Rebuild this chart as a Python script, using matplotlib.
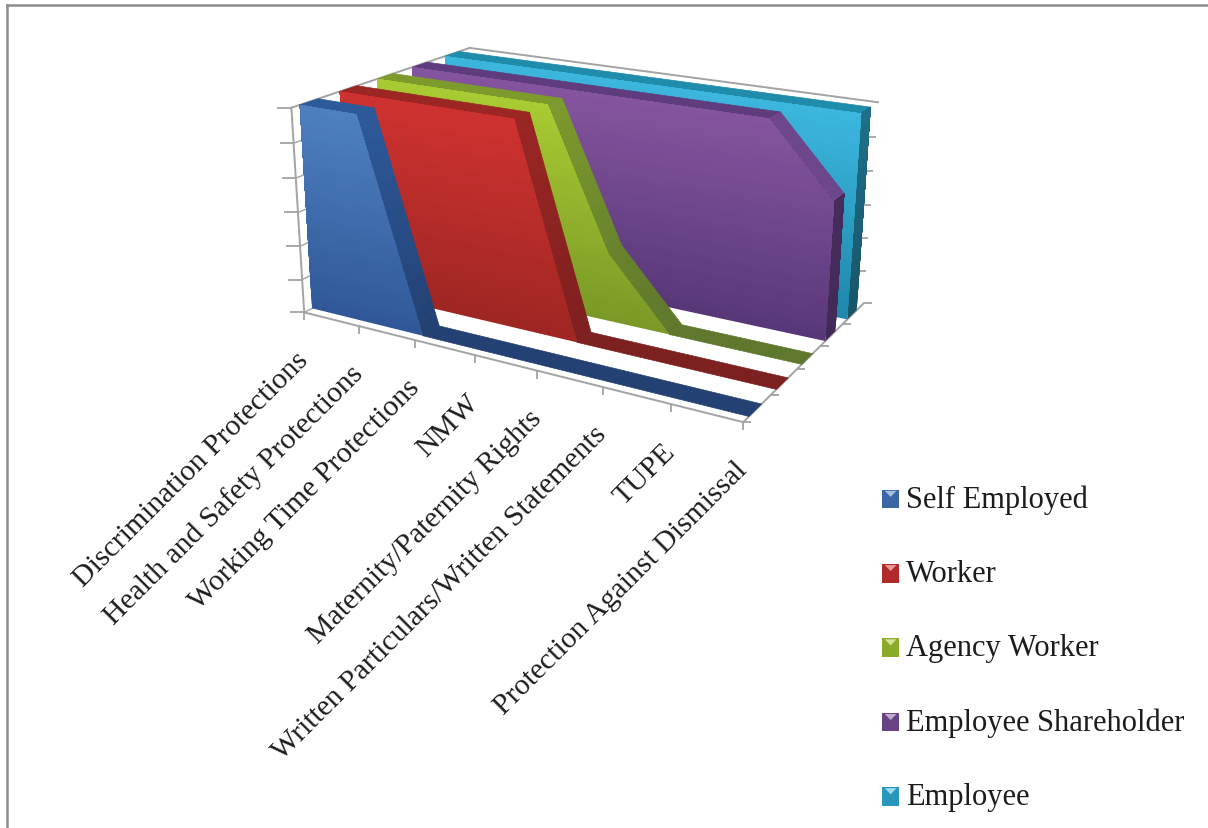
import numpy as np
import matplotlib
matplotlib.use('Agg')
import matplotlib.pyplot as plt
from matplotlib.lines import Line2D
from matplotlib.patches import Patch, Rectangle, Polygon
from matplotlib.path import Path
from mpl_toolkits.mplot3d import proj3d
from mpl_toolkits.mplot3d.art3d import Poly3DCollection

categories = ['Discrimination Protections', 'Health and Safety Protections', 'Working Time Protections',
              'NMW', 'Maternity/Paternity Rights', 'Written Particulars/Written Statements', 'TUPE',
              'Protection Against Dismissal']
series_names = ['Self Employed', 'Worker', 'Agency Worker', 'Employee Shareholder', 'Employee']
self_employed = [6, 6, 0, 0, 0, 0, 0, 0]
worker = [6, 6, 6, 6, 0, 0, 0, 0]
agency_worker = [6, 6, 6, 6, 2, 0, 0, 0]
employee_shareholder = [6, 6, 6, 6, 6, 6, 6, 4]
employee = [6, 6, 6, 6, 6, 6, 6, 6]
series_values = [self_employed, worker, agency_worker, employee_shareholder, employee]

W, H, S = 1208, 829, 1600
# each ribbon sits between these depths inside its series slot
FD, BD = 0.2, 0.65

# (top, bottom) colours of the front face, the top strip and the end cap
face_cols = [((78, 128, 192), (48, 88, 152)), ((207, 50, 48), (158, 38, 35)), ((168, 203, 50), (122, 152, 38)),
             ((132, 85, 158), (88, 55, 120)), ((60, 182, 222), (30, 135, 170))]
strip_cols = [((45, 90, 155), (35, 65, 115)), ((155, 38, 35), (125, 32, 32)), ((125, 155, 45), (95, 120, 45)),
              ((95, 60, 125), (75, 48, 100)), ((30, 140, 170), (25, 110, 140))]
end_cols = [((35, 70, 125), (30, 60, 110)), ((120, 30, 30), (110, 28, 28)), ((90, 115, 40), (85, 105, 40)),
            ((72, 46, 95), (66, 42, 88)), ((30, 112, 138), (24, 84, 104))]

fig = plt.figure(figsize=(W / 100, H / 100), dpi=100)
cx, cy = 565.65713, 231.36271
ax = fig.add_axes([(cx - S / 2) / W, (H - cy - S / 2) / H, S / W, S / H], projection='3d')
ax.set_axis_off()
ax.computed_zorder = False
ax.set_xlim(0, 7)
ax.set_ylim(0, 5)
ax.set_zlim(0, 6)
ax.view_init(elev=18.77319, azim=-60.61580, roll=-0.27643)
ax.set_proj_type('persp', focal_length=float(np.exp(-1.77855)))
ax.set_box_aspect((1, 0.63834, 0.44275), zoom=0.37143)
ax.apply_aspect()
M = ax.get_proj()


def mix(top, bottom, t):
    return tuple((t * a + (1 - t) * b) / 255 for a, b in zip(top, bottom))


def clip_above(pts, level):
    # keep the part of a (x, value) polygon at or above level
    out = []
    for i in range(len(pts)):
        a, b = pts[i], pts[(i + 1) % len(pts)]
        if a[1] >= level:
            out.append(a)
        if (a[1] >= level) != (b[1] >= level):
            t = (level - a[1]) / (b[1] - a[1])
            out.append((a[0] + t * (b[0] - a[0]), level))
    return out


def add_polys(verts, colors, z, lw=0.5):
    edges = colors if lw else 'none'
    coll = Poly3DCollection(verts, facecolors=colors, edgecolors=edges, linewidths=lw, zorder=z)
    ax.add_collection3d(coll, autolim=False)


levels = np.linspace(0, 6, 49)
for s in reversed(range(len(series_values))):
    vals = series_values[s]
    y0, y1 = s + FD, s + BD
    z = 10 + 3 * (len(series_values) - s)
    verts, cols = [], []
    for i in range(len(vals) - 1):
        v0, v1 = vals[i], vals[i + 1]
        pieces = 1 if v0 == v1 else 16
        for k in range(pieces):
            a, b = k / pieces, (k + 1) / pieces
            xa, xb = i + a, i + b
            za, zb = v0 + a * (v1 - v0), v0 + b * (v1 - v0)
            verts.append([(xa, y0, za), (xb, y0, zb), (xb, y1, zb), (xa, y1, za)])
            col = mix(*strip_cols[s], (za + zb) / 12)
            # the shareholder slope catches more light than its flat top
            if s == 3 and v0 != v1:
                col = (110 / 255, 70 / 255, 140 / 255)
            cols.append(col)
    add_polys(verts, cols, z)
    # shaded layers are stacked from the floor up, so no seams show between them
    profile = [(0, 0), (len(vals) - 1, 0)] + [(i, vals[i]) for i in reversed(range(len(vals)))]
    for j, lo in enumerate(levels[:-1]):
        mid = (lo + levels[j + 1]) / 2
        if lo < vals[-1]:
            add_polys([[(7, y0, lo), (7, y1, lo), (7, y1, vals[-1]), (7, y0, vals[-1])]],
                      [mix(*end_cols[s], mid / 6)], z + 1 + j / 100, lw=0)
        pts = clip_above(profile, lo)
        if len(pts) >= 3:
            add_polys([[(q[0], y0, q[1]) for q in pts]], [mix(*face_cols[s], mid / 6)], z + 2 + j / 100, lw=0)

GRID = '#a3a3a3'
wall = dict(color=GRID, lw=1.4, zorder=3)
ax.plot([0, 7], [0, 0], [0, 0], **wall)
ax.plot([7, 7], [0, 5], [0, 0], **wall)
ax.plot([0, 0], [0, 0], [0, 6], **wall)
ax.plot([0, 0], [0, 5], [6, 6], **wall)
ax.plot([0, 7], [5, 5], [6, 6], **wall)
for v in range(6):
    ax.plot([0, 0], [0, 5], [v, v], color=GRID, lw=1.0, zorder=2)

left_tick = Path([(-1, 0), (0, 0)])
right_tick = Path([(0, 0), (1, 0)])
down_tick = Path([(0, 0), (0, -1)])
mark = dict(ls='none', mec=GRID, mfc='none', mew=1.3, zorder=4)
ax.plot([0] * 7, [0] * 7, range(7), marker=left_tick, ms=20, **mark)
ax.plot(range(8), [0] * 8, [0] * 8, marker=down_tick, ms=12, **mark)
ax.plot([7] * 6, range(6), [0] * 6, marker=right_tick, ms=12, **mark)
# back axis ticks run behind the last ribbon and only poke out past it
back = dict(mark, zorder=2)
ax.plot([7] * 5, [5] * 5, range(1, 6), marker=left_tick, ms=12, **back)

serif = 'Liberation Serif'
INK = '#1c1c1c'
for i, label in enumerate(categories):
    tx, ty, _ = proj3d.proj_transform(i, 0, 0, M)
    ax.annotate(label, xy=(tx, ty), xycoords='data', xytext=(0, -43), textcoords='offset pixels',
                rotation=45, ha='right', va='center', rotation_mode='anchor', family=serif, fontsize=21.4,
                color=INK, zorder=50, annotation_clip=False)


class BevelHandler:
    def legend_artist(self, legend, orig, fontsize, box):
        x0, y0 = box.xdescent, box.ydescent
        w, h = box.width, box.height
        tr = box.get_transform()
        base = Rectangle((x0, y0), w, h, facecolor=orig.get_facecolor(), edgecolor='none', transform=tr)
        tri = Polygon([(x0 + .15 * w, y0 + h * .95), (x0 + .85 * w, y0 + h * .95), (x0 + .5 * w, y0 + .62 * h)],
                      facecolor=orig.get_edgecolor(), edgecolor='none', transform=tr)
        box.add_artist(base)
        box.add_artist(tri)
        return base


handles = [Patch(facecolor=mix(*face_cols[s], 0.35), edgecolor=mix((255, 255, 255), face_cols[s][0], 0.5))
           for s in range(5)]
fig.legend(handles, series_names, handler_map={Patch: BevelHandler()}, loc='upper left',
           bbox_to_anchor=(870 / W, 1 - 473 / H), frameon=False, prop={'family': serif, 'size': 22},
           labelspacing=1.48, handlelength=0.55, handleheight=0.55, handletextpad=0.23, labelcolor=INK,
           borderaxespad=0)

frame = dict(color='#8c8c8c', lw=1.8, transform=fig.transFigure)
fig.add_artist(Line2D([7 / W, 7 / W], [0, 1 - 6 / H], **frame))
fig.add_artist(Line2D([7 / W, 1], [1 - 6 / H, 1 - 6 / H], **frame))

fig.savefig('out.png', dpi=100)
